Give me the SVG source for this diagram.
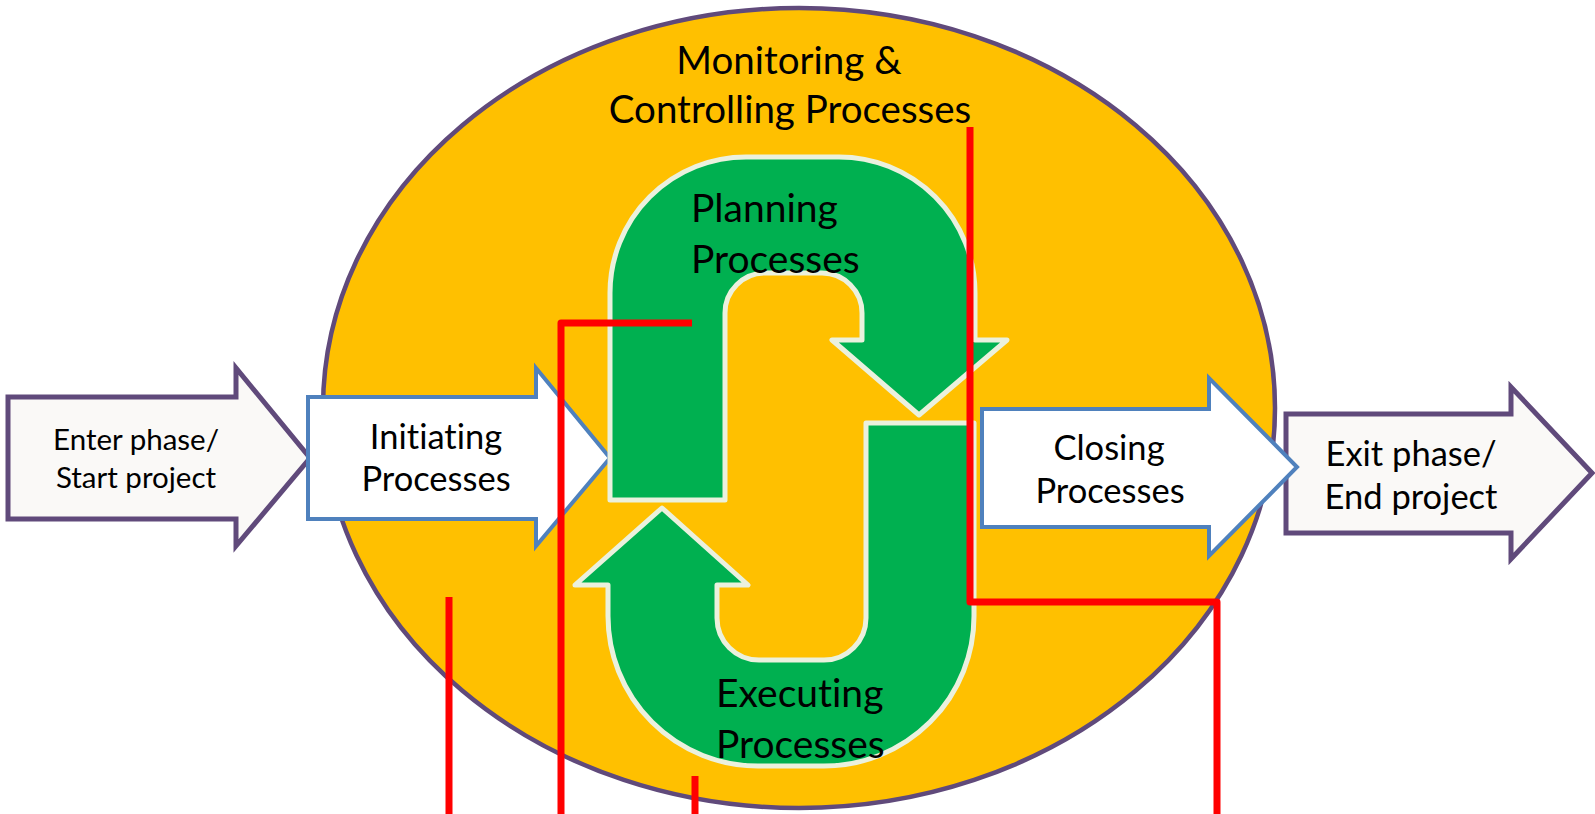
<svg xmlns="http://www.w3.org/2000/svg" width="1595" height="814" viewBox="0 0 1595 814">
  <style>
    .label { font-family: Lato, "Open Sans", "Liberation Sans", sans-serif; fill: #000000; font-variant-ligatures: none; font-feature-settings: "liga" 0, "clig" 0; }
    .mid { text-anchor: middle; }
    .phase { fill: #FAF9F7; stroke: #604A7B; stroke-width: 5; stroke-linejoin: miter; }
    .process { fill: #FFFFFF; stroke: #4F81BD; stroke-width: 4; stroke-linejoin: miter; }
    .uturn { fill: #00B050; stroke: #EBF1DE; stroke-width: 5; stroke-linejoin: round; }
    .red { fill: none; stroke: #FF0000; stroke-width: 7; stroke-linejoin: round; }
  </style>

  <rect width="1595" height="814" fill="#FFFFFF"/>

  <!-- Monitoring & Controlling: large ellipse behind everything -->
  <g id="monitoring">
    <ellipse cx="799" cy="408" rx="476" ry="400" fill="#FFC000" stroke="#604A7B" stroke-width="4.5"/>
    <text class="label mid" x="789" y="74" font-size="38.5">Monitoring &amp;</text>
    <text class="label mid" x="790" y="123" font-size="38.5">Controlling Processes</text>
  </g>

  <!-- Enter phase arrow -->
  <g id="enter">
    <polygon class="phase" points="8,397 236,397 236,368 310,458 236,546 236,519 8,519"/>
    <text class="label mid" x="136" y="450" font-size="29.5">Enter phase/</text>
    <text class="label mid" x="136" y="488" font-size="29.5">Start project</text>
  </g>

  <!-- Initiating arrow -->
  <g id="initiating">
    <polygon class="process" points="308,397 536,397 536,368 610,458 536,546 536,519 308,519"/>
    <text class="label mid" x="436" y="449" font-size="34.5">Initiating</text>
    <text class="label mid" x="436" y="491" font-size="34.5">Processes</text>
  </g>

  <!-- Planning U-turn (top) -->
  <g id="planning">
    <path class="uturn" d="M610,500 V293 A136,136 0 0 1 746,157 H839 A136,136 0 0 1 975,293 V340 H1007 L919,415 L832,340 H862 V313 A40,40 0 0 0 822,273 H765 A40,40 0 0 0 725,313 V500 Z"/>
    <text class="label" x="691" y="222" font-size="39">Planning</text>
    <text class="label" x="691" y="273" font-size="39">Processes</text>
  </g>

  <!-- Executing U-turn (bottom) -->
  <g id="executing">
    <path class="uturn" d="M974,423 V616 A150,150 0 0 1 824,766 H758 A150,150 0 0 1 608,616 V585 H575 L662,508 L748,585 H717 V618 A42,42 0 0 0 759,660 H824 A42,42 0 0 0 866,618 V423 Z"/>
    <text class="label" x="716" y="707" font-size="39">Executing</text>
    <text class="label" x="716" y="758" font-size="39">Processes</text>
  </g>

  <!-- Exit phase arrow -->
  <g id="exit">
    <polygon class="phase" points="1286,414 1511,414 1511,387 1592,473 1511,559 1511,533 1286,533"/>
    <text class="label mid" x="1411" y="466" font-size="34.5">Exit phase/</text>
    <text class="label mid" x="1411" y="509" font-size="34.5">End project</text>
  </g>

  <!-- Closing arrow (its tip overlaps the exit arrow) -->
  <g id="closing">
    <polygon class="process" points="982,409 1209,409 1209,378 1297,467 1209,556 1209,527 982,527"/>
    <text class="label mid" x="1109" y="460" font-size="34.5">Closing</text>
    <text class="label mid" x="1110" y="503" font-size="34.5">Processes</text>
  </g>

  <!-- Red connector lines -->
  <g id="connectors">
    <polyline class="red" points="449,597 449,815"/>
    <polyline class="red" points="561,815 561,323 692,323"/>
    <polyline class="red" points="695,776 695,815"/>
    <polyline class="red" points="970,127 970,602 1217,602 1217,815"/>
  </g>
</svg>
